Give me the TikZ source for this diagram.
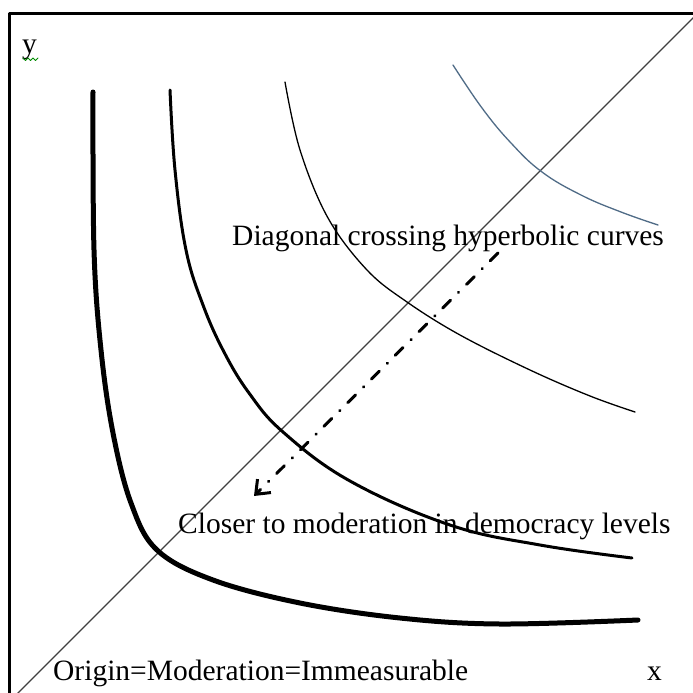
\documentclass[tikz,border=0pt]{standalone}
\usepackage{fontspec}
\setmainfont{Liberation Serif}
\usetikzlibrary{arrows.meta}
\definecolor{curveblue}{RGB}{80,108,135}

\begin{document}
\begin{tikzpicture}[
		x=1pt, y=-1pt,          % pixel-like units, y pointing down
		line cap=round, line join=round,
		>=Latex,
		lbl/.style={anchor=base west, inner sep=0pt, font=\fontsize{29.5}{34}\selectfont},
		curvethick/.style={line width=5pt},
		curvemid/.style={line width=3pt},
		curvethin/.style={line width=1.3pt}
		]
		
		% ---------- Canvas and frame ----------
		\useasboundingbox (0,0) rectangle (693,693);
		\clip (0,0) rectangle (693,693);
		\fill[white] (0,0) rectangle (693,693);
		\draw[line width=3pt, line cap=butt] (9,700) -- (9,14) -- (700,14);
		
		% ---------- Diagonal ----------
		\coordinate (D0) at (0,711);
		\coordinate (D1) at (711,0);
		\draw[line width=1.2pt, black!75] (D0) -- (D1);
		
		% ---------- Hyperbolic curves (outermost last) ----------
		\draw[curvethick] plot[smooth, tension=0.6] coordinates {
			(93,92) (94,250) (101,350) (113,433) (131,503) (157,550)
			(213,580) (300,603) (400,618) (500,624) (638,620)};
		\draw[curvemid] plot[smooth, tension=0.65] coordinates {
			(170,90) (175,170) (186,250) (203,305) (224,352) (249,393) (283,432)
			(350,481) (450,525) (540,545) (632,558)};
		\draw[curvethin] plot[smooth, tension=0.6] coordinates {
			(285,82) (300,150) (328,218) (367,270) (407,302)
			(460,335) (530,370) (590,396) (635,412)};
		\draw[curvethin, curveblue] plot[smooth, tension=0.7] coordinates {
			(453,65) (482,108) (511,143) (542,172) (581,195) (621,212) (658,225)};
		
		% ---------- Dash-dot arrow towards the origin ----------
		\coordinate (Astart) at (498,253);
		\coordinate (Aend) at (254,496);
		\draw[line width=3pt, dash pattern=on 11pt off 11pt on 0.5pt off 11pt,
		-{Straight Barb[length=12pt, width=19pt, line width=3pt]}] (Astart) -- (Aend);
		
		% ---------- Labels ----------
		\node[lbl] (ylab) at (22,53) {y};
		\draw[green!55!black, line width=0.8pt] (23,58) -- (25.5,60.5) -- (28,58) -- (30.5,60.5) -- (33,58) -- (35.5,60.5) -- (38,58);
		\node[lbl] (xlab) at (647,680) {x};
		\node[lbl] (diag) at (232,245) {Diagonal crossing hyperbolic curves};
		\node[lbl] (closer) at (178,533) {Closer to moderation in democracy levels};
		\node[lbl] (origin) at (53,680) {Origin=Moderation=Immeasurable};
		
	\end{tikzpicture}
\end{document}
